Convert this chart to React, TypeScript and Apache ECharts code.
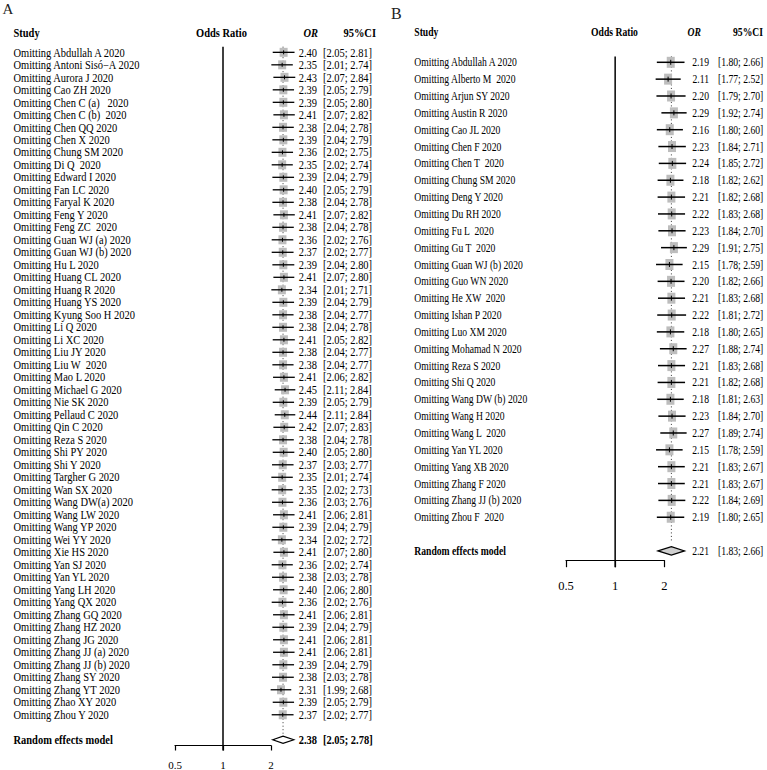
import React, { useEffect, useRef } from "react";
import * as echarts from "echarts";

const FONT = '"Liberation Serif", "Times New Roman", Times, serif';

// ---------- Panel A data ----------
const studiesA = [
  "Omitting Abdullah A 2020", "Omitting Antoni Sisó−A 2020", "Omitting Aurora J 2020", "Omitting Cao ZH 2020",
  "Omitting Chen C (a)   2020", "Omitting Chen C (b)  2020", "Omitting Chen QQ 2020", "Omitting Chen X 2020",
  "Omitting Chung SM 2020", "Omitting Di Q  2020", "Omitting Edward I 2020", "Omitting Fan LC 2020",
  "Omitting Faryal K 2020", "Omitting Feng Y 2020", "Omitting Feng ZC  2020", "Omitting Guan WJ (a) 2020",
  "Omitting Guan WJ (b) 2020", "Omitting Hu L 2020", "Omitting Huang CL 2020", "Omitting Huang R 2020",
  "Omitting Huang YS 2020", "Omitting Kyung Soo H 2020", "Omitting Li Q 2020", "Omitting Li XC 2020",
  "Omitting Liu JY 2020", "Omitting Liu W  2020", "Omitting Mao L 2020", "Omitting Michael G 2020",
  "Omitting Nie SK 2020", "Omitting Pellaud C 2020", "Omitting Qin C 2020", "Omitting Reza S 2020",
  "Omitting Shi PY 2020", "Omitting Shi Y 2020", "Omitting Targher G 2020", "Omitting Wan SX 2020",
  "Omitting Wang DW(a) 2020", "Omitting Wang LW 2020", "Omitting Wang YP 2020", "Omitting Wei YY 2020",
  "Omitting Xie HS 2020", "Omitting Yan SJ 2020", "Omitting Yan YL 2020", "Omitting Yang LH 2020",
  "Omitting Yang QX 2020", "Omitting Zhang GQ 2020", "Omitting Zhang HZ 2020", "Omitting Zhang JG 2020",
  "Omitting Zhang JJ (a) 2020", "Omitting Zhang JJ (b) 2020", "Omitting Zhang SY 2020", "Omitting Zhang YT 2020",
  "Omitting Zhao XY 2020", "Omitting Zhou Y 2020",
];
const orA = [
  2.40, 2.35, 2.43, 2.39, 2.39, 2.41, 2.38, 2.39, 2.36, 2.35, 2.39, 2.40,
  2.38, 2.41, 2.38, 2.36, 2.37, 2.39, 2.41, 2.34, 2.39, 2.38, 2.38, 2.41,
  2.38, 2.38, 2.41, 2.45, 2.39, 2.44, 2.42, 2.38, 2.40, 2.37, 2.35, 2.35,
  2.36, 2.41, 2.39, 2.34, 2.41, 2.36, 2.38, 2.40, 2.36, 2.41, 2.39, 2.41,
  2.41, 2.39, 2.38, 2.31, 2.39, 2.37,
];
const lowerA = [
  2.05, 2.01, 2.07, 2.05, 2.05, 2.07, 2.04, 2.04, 2.02, 2.02, 2.04, 2.05,
  2.04, 2.07, 2.04, 2.02, 2.02, 2.04, 2.07, 2.01, 2.04, 2.04, 2.04, 2.05,
  2.04, 2.04, 2.06, 2.11, 2.05, 2.11, 2.07, 2.04, 2.05, 2.03, 2.01, 2.02,
  2.03, 2.06, 2.04, 2.02, 2.07, 2.02, 2.03, 2.06, 2.02, 2.06, 2.04, 2.06,
  2.06, 2.04, 2.03, 1.99, 2.05, 2.02,
];
const upperA = [
  2.81, 2.74, 2.84, 2.79, 2.80, 2.82, 2.78, 2.79, 2.75, 2.74, 2.79, 2.79,
  2.78, 2.82, 2.78, 2.76, 2.77, 2.80, 2.80, 2.71, 2.79, 2.77, 2.78, 2.82,
  2.77, 2.77, 2.82, 2.84, 2.79, 2.84, 2.83, 2.78, 2.80, 2.77, 2.74, 2.73,
  2.76, 2.81, 2.79, 2.72, 2.80, 2.74, 2.78, 2.80, 2.76, 2.81, 2.79, 2.81,
  2.81, 2.79, 2.78, 2.68, 2.79, 2.77,
];
const pooledA = [2.38, 2.05, 2.78];

// ---------- Panel B data ----------
const studiesB = [
  "Omitting Abdullah A 2020", "Omitting Alberto M  2020", "Omitting Arjun SY 2020", "Omitting Austin R 2020",
  "Omitting Cao JL 2020", "Omitting Chen F 2020", "Omitting Chen T  2020", "Omitting Chung SM 2020",
  "Omitting Deng Y 2020", "Omitting Du RH 2020", "Omitting Fu L  2020", "Omitting Gu T  2020",
  "Omitting Guan WJ (b) 2020", "Omitting Guo WN 2020", "Omitting He XW  2020", "Omitting Ishan P 2020",
  "Omitting Luo XM 2020", "Omitting Mohamad N 2020", "Omitting Reza S 2020", "Omitting Shi Q 2020",
  "Omitting Wang DW (b) 2020", "Omitting Wang H 2020", "Omitting Wang L  2020", "Omitting Yan YL 2020",
  "Omitting Yang XB 2020", "Omitting Zhang F 2020", "Omitting Zhang JJ (b) 2020", "Omitting Zhou F  2020",
];
const orB = [
  2.19, 2.11, 2.20, 2.29, 2.16, 2.23, 2.24, 2.18, 2.21, 2.22, 2.23, 2.29, 2.15, 2.20,
  2.21, 2.22, 2.18, 2.27, 2.21, 2.21, 2.18, 2.23, 2.27, 2.15, 2.21, 2.21, 2.22, 2.19,
];
const lowerB = [
  1.80, 1.77, 1.79, 1.92, 1.80, 1.84, 1.85, 1.82, 1.82, 1.83, 1.84, 1.91, 1.78, 1.82,
  1.83, 1.81, 1.80, 1.88, 1.83, 1.82, 1.81, 1.84, 1.89, 1.78, 1.83, 1.83, 1.84, 1.80,
];
const upperB = [
  2.66, 2.52, 2.70, 2.74, 2.60, 2.71, 2.72, 2.62, 2.68, 2.68, 2.70, 2.75, 2.59, 2.66,
  2.68, 2.72, 2.65, 2.74, 2.68, 2.68, 2.63, 2.70, 2.74, 2.59, 2.67, 2.67, 2.69, 2.65,
];
const pooledB = [2.21, 1.83, 2.66];

const axisTickValues = [0.5, 1, 2];
const nullEffect = 1;
const pooledLabel = "Random effects model";
const headers = ["Study", "Odds Ratio", "OR", "95%CI"];

// ---------- layout (positions / styles only) ----------
const layoutA = {
  grid: { left: 175, top: 46.7, width: 96, height: 700 },
  yMin: -0.45, yMax: 55.46, pooledRow: 55, dotEnd: 54.6,
  nameX: 13.5, orX: 317, ciX: 323, fs: 11.5, sx: 0.91,
  sqW: 8, sqH: 9, tickH: 4, ciW: 1.3, dh: 3.6, diamondFill: "#ffffff", pooledBold: true,
  nullW: 1.5, axisFs: 11, axisMargin: 13.5, tickLen: 5,
  hdrY: 33, hdrStudyX: 13.5, hdrOddsX: 221.5, hdrOrX: 318, hdrCiX: 376,
  panel: "A", panelX: 2.5, panelY: 9, panelFs: 15,
};
const layoutB = {
  grid: { left: 566, top: 56.4, width: 98.3, height: 503.8 },
  yMin: -0.35, yMax: 29.55, pooledRow: 29, dotEnd: 28.5,
  nameX: 414.3, orX: 709, ciX: 718, fs: 13.5, sx: 0.715,
  sqW: 8, sqH: 11, tickH: 5, ciW: 1.5, dh: 4.2, diamondFill: "#cfcfcf", pooledBold: false,
  nullW: 1.5, axisFs: 12.5, axisMargin: 19.5, tickLen: 7,
  hdrY: 32, hdrStudyX: 414.3, hdrOddsX: 614.5, hdrOrX: 701, hdrCiX: 763,
  panel: "B", panelX: 391, panelY: 13, panelFs: 16,
};

const fmt = (v: number) => v.toFixed(2);
const fmtCI = (lo: number, hi: number) => `[${fmt(lo)}; ${fmt(hi)}]`;

function makeText(text: string, x: number, y: number, align: string, fs: number, sx: number, weight = "normal", style = "normal") {
  return {
    type: "text",
    x, y, scaleX: sx, scaleY: 1,
    z2: 20,
    style: {
      text,
      fill: "#000",
      font: `${style} ${weight} ${fs}px ${FONT}`,
      fontSize: fs, fontFamily: FONT, fontWeight: weight, fontStyle: style,
      textAlign: align, textVerticalAlign: "middle",
      align, verticalAlign: "middle",
    },
  };
}

function makeRender(L: any, names: string[]) {
  return (params: any, api: any) => {
    const est = api.value(0);
    const lo = api.value(1);
    const hi = api.value(2);
    const row = api.value(3);
    const k = api.value(4);
    const c = api.coord([est, row]);
    const cl = api.coord([lo, row]);
    const ch = api.coord([hi, row]);
    const children: any[] = [];
    if (k < 0) {
      const top = api.coord([est, L.yMin]);
      const bot = api.coord([est, L.dotEnd]);
      children.push({
        type: "line", z2: 1,
        shape: { x1: c[0], y1: top[1], x2: c[0], y2: bot[1] },
        style: { stroke: "#333", lineWidth: 1, lineDash: [1, 2.5] },
      });
      const nTop = api.coord([nullEffect, L.yMin]);
      const nBot = api.coord([nullEffect, L.yMax]);
      children.push({
        type: "line", z2: 15,
        shape: { x1: nTop[0], y1: nTop[1], x2: nBot[0], y2: nBot[1] + L.tickLen },
        style: { stroke: "#000", lineWidth: L.nullW },
      });
      children.push({
        type: "polygon", z2: 12,
        shape: { points: [[cl[0], c[1]], [c[0], c[1] - L.dh], [ch[0], c[1]], [c[0], c[1] + L.dh]] },
        style: { fill: L.diamondFill, stroke: "#000", lineWidth: 1.2 },
      });
      children.push(makeText(pooledLabel, L.nameX, c[1], "left", L.fs, L.sx, "bold"));
      children.push(makeText(fmt(est), L.orX, c[1], "right", L.fs, L.sx, L.pooledBold ? "bold" : "normal"));
      children.push(makeText(fmtCI(lo, hi), L.ciX, c[1], "left", L.fs, L.sx, L.pooledBold ? "bold" : "normal"));
    } else {
      children.push({
        type: "rect", z2: 5,
        shape: { x: c[0] - L.sqW / 2, y: c[1] - L.sqH / 2, width: L.sqW, height: L.sqH },
        style: { fill: "#bdbdbd" },
      });
      children.push({
        type: "line", z2: 8,
        shape: { x1: cl[0], y1: c[1], x2: ch[0], y2: c[1] },
        style: { stroke: "#000", lineWidth: L.ciW },
      });
      children.push({
        type: "line", z2: 9,
        shape: { x1: c[0], y1: c[1] - L.tickH / 2, x2: c[0], y2: c[1] + L.tickH / 2 },
        style: { stroke: "#000", lineWidth: 1 },
      });
      children.push(makeText(names[k], L.nameX, c[1], "left", L.fs, L.sx));
      children.push(makeText(fmt(est), L.orX, c[1], "right", L.fs, L.sx));
      children.push(makeText(fmtCI(lo, hi), L.ciX, c[1], "left", L.fs, L.sx));
    }
    return { type: "group", children };
  };
}

function buildData(or: number[], lo: number[], hi: number[], pooled: number[], pooledRow: number) {
  const rows: number[][] = [[pooled[0], pooled[1], pooled[2], pooledRow, -1]];
  or.forEach((v, i) => rows.push([v, lo[i], hi[i], i, i]));
  return rows;
}

function headerGraphics(L: any) {
  const g: any[] = [];
  g.push({
    type: "text", x: L.panelX, y: L.panelY,
    style: { text: L.panel, fill: "#222", font: `normal ${L.panelFs}px ${FONT}`, textAlign: "left", textVerticalAlign: "middle", align: "left", verticalAlign: "middle" },
  });
  const hs: [string, number, string, string][] = [
    [headers[0], L.hdrStudyX, "left", "normal"],
    [headers[1], L.hdrOddsX, "center", "normal"],
    [headers[2], L.hdrOrX, "right", "italic"],
    [headers[3], L.hdrCiX, "right", "normal"],
  ];
  hs.forEach(([t, x, a, st]) => g.push(makeText(t, x, L.hdrY, a, L.fs, L.sx, "bold", st)));
  return g;
}

function axisFor(L: any, gridIndex: number) {
  return {
    type: "log", logBase: 2, gridIndex, min: 0.5, max: 2, position: "bottom",
    axisLine: { show: true, onZero: false, lineStyle: { color: "#000", width: 1.2 } },
    axisTick: { show: true, inside: false, length: L.tickLen, lineStyle: { color: "#000", width: 1.2 } },
    axisLabel: {
      show: true, color: "#000", fontFamily: FONT, fontSize: L.axisFs, margin: L.axisMargin,
      formatter: (v: number) => (axisTickValues.includes(v) ? String(v) : ""),
    },
    splitLine: { show: false },
  };
}

function yAxisFor(L: any, gridIndex: number) {
  return { type: "value", gridIndex, inverse: true, min: L.yMin, max: L.yMax, show: false };
}

export default function App() {
  const ref = useRef<HTMLDivElement>(null);
  useEffect(() => {
    if (!ref.current) return;
    const chart = echarts.init(ref.current, undefined, { renderer: "svg" });
    chart.setOption({
      animation: false,
      backgroundColor: "#ffffff",
      grid: [
        { ...layoutA.grid, containLabel: false },
        { ...layoutB.grid, containLabel: false },
      ],
      xAxis: [axisFor(layoutA, 0), axisFor(layoutB, 1)],
      yAxis: [yAxisFor(layoutA, 0), yAxisFor(layoutB, 1)],
      graphic: [...headerGraphics(layoutA), ...headerGraphics(layoutB)],
      series: [
        {
          type: "custom", xAxisIndex: 0, yAxisIndex: 0, clip: false,
          encode: { x: [0, 1, 2], y: 3 },
          renderItem: makeRender(layoutA, studiesA),
          data: buildData(orA, lowerA, upperA, pooledA, layoutA.pooledRow),
        },
        {
          type: "custom", xAxisIndex: 1, yAxisIndex: 1, clip: false,
          encode: { x: [0, 1, 2], y: 3 },
          renderItem: makeRender(layoutB, studiesB),
          data: buildData(orB, lowerB, upperB, pooledB, layoutB.pooledRow),
        },
      ],
    });
    return () => chart.dispose();
  }, []);
  return (
    <div
      ref={ref}
      style={{ position: "absolute", left: 0, top: 0, width: 767, height: 770, background: "#fff" }}
    />
  );
}
